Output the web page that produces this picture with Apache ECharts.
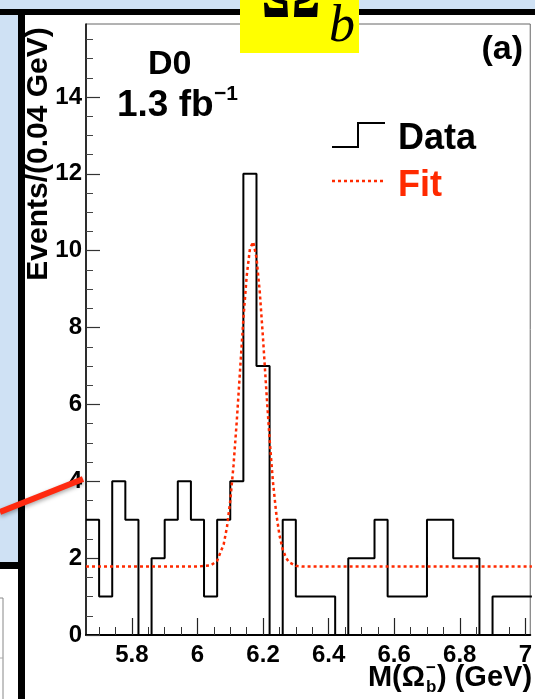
<!DOCTYPE html>
<html><head><meta charset="utf-8">
<script src="https://cdn.jsdelivr.net/npm/echarts@6/dist/echarts.min.js"></script>
<style>html,body{margin:0;padding:0;background:#fff;}#c{width:535px;height:699px;}</style>
</head><body><div id="c"></div>
<script>
// Histogram: lower bin edges (GeV) and event counts per 0.04 GeV bin
const binLow = [5.66,5.70,5.74,5.78,5.82,5.86,5.90,5.94,5.98,6.02,6.06,6.10,6.14,6.18,6.22,6.26,6.30,6.34,6.38,6.42,6.46,6.50,6.54,6.58,6.62,6.66,6.70,6.74,6.78,6.82,6.86,6.90,6.94,6.98];
const counts = [3,1,4,3,0,2,3,4,3,1,3,4,12,7,0,3,1,1,1,0,2,2,3,1,1,1,3,3,2,2,0,1,1,1];
const histEnd = 7.02;
// Fit curve
const fitX = [5.66,6.00,6.04,6.06,6.08,6.09,6.10,6.11,6.12,6.13,6.14,6.15,6.16,6.17,6.18,6.19,6.20,6.21,6.22,6.23,6.24,6.25,6.26,6.27,6.28,6.30,6.32,7.02];
const fitY = [1.78,1.78,1.81,1.93,2.36,2.81,3.49,4.42,5.58,6.90,8.22,9.33,10.05,10.23,9.82,8.93,7.71,6.37,5.09,4.01,3.18,2.60,2.23,2.01,1.89,1.80,1.78,1.78];
// Ticks
const xMajorTicks = [5.8,6.0,6.2,6.4,6.6,6.8,7.0];
const xMinorTicks = [5.70,5.75,5.85,5.90,5.95,6.05,6.10,6.15,6.25,6.30,6.35,6.45,6.50,6.55,6.65,6.70,6.75,6.85,6.90,6.95];
const yMajorTicks = [0,2,4,6,8,10,12,14];
const yMinorTicks = [0.5,1,1.5,2.5,3,3.5,4.5,5,5.5,6.5,7,7.5,8.5,9,9.5,10.5,11,11.5,12.5,13,13.5,14.5,15,15.5];

const SANS = 'Liberation Sans, Arial, Helvetica, sans-serif';
const SERIF = 'Liberation Serif, Times New Roman, serif';

const histData = binLow.map((x,i)=>[x,counts[i]]);
histData.push([histEnd, counts[counts.length-1]]);
const fitData = fitX.map((x,i)=>[x,fitY[i]]);

const chart = echarts.init(document.getElementById('c'), null, {renderer:'canvas'});
const txt = (text, x, y, size, opts={}) => ({
  type:'text', x, y, z: opts.z || 50, rotation: opts.rotation || 0,
  style:{text, fill: opts.color || '#000', font: (opts.italic?'italic ':'') + (opts.weight||'bold') + ' ' + size + 'px ' + (opts.family||SANS),
    align: opts.align || 'left', verticalAlign:'middle'}
});

chart.setOption({
  animation:false,
  backgroundColor:'#fff',
  grid:{left:86, top:24, right:1, bottom:64, show:true, borderColor:'#666', borderWidth:1, backgroundColor:'transparent'},
  xAxis:[
    {type:'value', min:5.66, max:7.015, position:'bottom',
     axisLine:{show:true, onZero:false, lineStyle:{color:'#000', width:2}},
     axisTick:{show:true, inside:true, length:17, customValues:xMajorTicks, lineStyle:{color:'#222', width:1.2}},
     axisLabel:{show:true, customValues:xMajorTicks, formatter:v=>String(parseFloat((+v).toFixed(2))),
       fontSize:24, fontWeight:'bold', fontFamily:SANS, color:'#000', margin:8},
     splitLine:{show:false}},
    {type:'value', min:5.66, max:7.015, position:'bottom',
     axisLine:{show:false},
     axisTick:{show:true, inside:true, length:8, customValues:xMinorTicks, lineStyle:{color:'#333', width:1}},
     axisLabel:{show:false}, splitLine:{show:false}}
  ],
  yAxis:[
    {type:'value', min:0, max:15.9, position:'left',
     axisLine:{show:true, onZero:false, lineStyle:{color:'#000', width:1.5}},
     axisTick:{show:true, inside:true, length:14, customValues:yMajorTicks, lineStyle:{color:'#333', width:1.2}},
     axisLabel:{show:true, customValues:yMajorTicks, fontSize:24, fontWeight:'bold', fontFamily:SANS, color:'#000', margin:4},
     splitLine:{show:false}},
    {type:'value', min:0, max:15.9, position:'left',
     axisLine:{show:false},
     axisTick:{show:true, inside:true, length:7, customValues:yMinorTicks, lineStyle:{color:'#444', width:1}},
     axisLabel:{show:false}, splitLine:{show:false}}
  ],
  series:[
    {type:'line', name:'Data', xAxisIndex:0, yAxisIndex:0, step:'end', data:histData, symbol:'none',
     lineStyle:{color:'#000', width:2}, z:3},
    {type:'line', name:'Fit', xAxisIndex:0, yAxisIndex:0, data:fitData, symbol:'none',
     lineStyle:{color:'#ff2a00', width:2.5, type:[3,3]}, z:4}
  ],
  graphic:[
    // slide background and frame
    {type:'rect', shape:{x:0,y:0,width:535,height:10}, style:{fill:'#cfe1f4'}, z:-10},
    {type:'rect', shape:{x:0,y:0,width:18,height:563}, style:{fill:'#cfe1f4'}, z:-10},
    {type:'rect', shape:{x:0,y:9,width:535,height:6}, style:{fill:'#000'}, z:-9},
    {type:'rect', shape:{x:18,y:9,width:7,height:690}, style:{fill:'#000'}, z:-9},
    {type:'rect', shape:{x:0,y:562,width:18,height:7}, style:{fill:'#000'}, z:-9},
    {type:'line', shape:{x1:3,y1:598,x2:3,y2:699}, style:{stroke:'#888', lineWidth:1}, z:-9},
    {type:'line', shape:{x1:0,y1:598,x2:3,y2:598}, style:{stroke:'#888', lineWidth:1}, z:-9},
    {type:'line', shape:{x1:0,y1:658,x2:3,y2:658}, style:{stroke:'#aaa', lineWidth:1}, z:-9},
    // red pointer
    {type:'line', shape:{x1:0,y1:512,x2:83,y2:479}, style:{stroke:'#ff2a10', lineWidth:6, shadowBlur:4, shadowColor:'rgba(0,0,0,0.35)', shadowOffsetY:2}, z:100},
    // title box
    {type:'rect', shape:{x:240,y:0,width:119,height:53}, style:{fill:'#ffff00'}, z:100},
    txt('Ω', 291, -3, 76, {family:SERIF, align:'center', z:101}),
    txt('b', 329, 27.5, 52, {family:SERIF, italic:true, weight:'normal', z:101}),
    // annotations
    txt('D0', 148, 65, 34),
    txt('1.3 fb', 117, 106, 37),
    txt('−1', 214, 94, 21),
    txt('(a)', 523, 49.5, 34, {align:'right'}),
    // legend
    {type:'polyline', shape:{points:[[332,147],[358,147],[358,123],[385,123]]}, style:{stroke:'#000', lineWidth:2, fill:null}, z:50},
    {type:'line', shape:{x1:332,y1:181,x2:385,y2:181}, style:{stroke:'#ff2a00', lineWidth:2.5, lineDash:[3,3]}, z:50},
    txt('Data', 398, 139.5, 36),
    txt('Fit', 398, 185.8, 36, {color:'#ff2a00'}),
    // axis titles
    txt('Events/(0.04 GeV)', 38.5, 154, 30, {align:'center', rotation:Math.PI/2}),
    txt('M(Ω', 425, 678.3, 29, {align:'right'}),
    txt('b', 426, 687, 17),
    txt('−', 426, 668, 17),
    txt(') (GeV)', 437, 678.3, 29)
  ]
});
</script></body></html>
